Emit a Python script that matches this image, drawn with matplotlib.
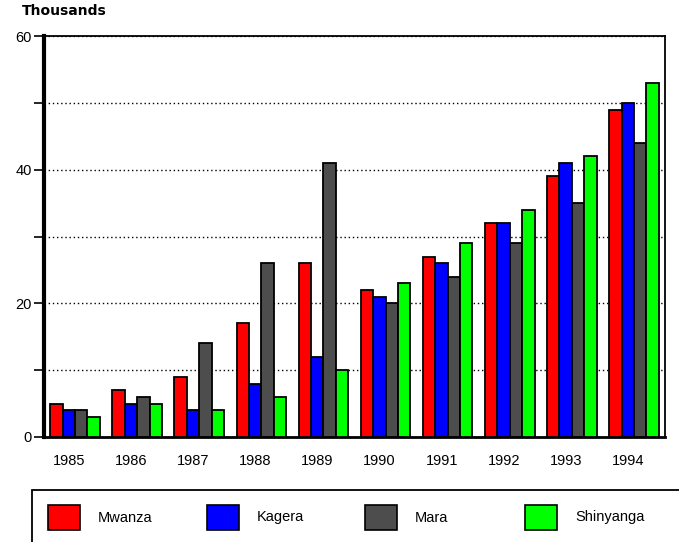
import matplotlib
matplotlib.use("Agg")
import matplotlib.pyplot as plt
import matplotlib.transforms as mtransforms
import numpy as np
from matplotlib.patches import Rectangle

plt.rcParams['font.family'] = ['Liberation Sans', 'DejaVu Sans']

years = ["1985", "1986", "1987", "1988", "1989", "1990", "1991", "1992", "1993", "1994"]
regions = ["Mwanza", "Kagera", "Mara", "Shinyanga"]
mwanza = [5, 7, 9, 17, 26, 22, 27, 32, 39, 49]
kagera = [4, 5, 4, 8, 12, 21, 26, 32, 41, 50]
mara = [4, 6, 14, 26, 41, 20, 24, 29, 35, 44]
shinyanga = [3, 5, 4, 6, 10, 23, 29, 34, 42, 53]
series = [mwanza, kagera, mara, shinyanga]
colors = ["#FF0000", "#0000FF", "#4D4D4D", "#00FF00"]

W, H = 679, 542
fig = plt.figure(figsize=(W / 100, H / 100), dpi=100)
ax = fig.add_axes([44 / W, 1 - 437 / H, 621 / W, 401 / H])

x = np.arange(len(years))
bw = 0.2
for i, (vals, c) in enumerate(zip(series, colors)):
    ax.bar(x + (i - 1.5) * bw, vals, width=bw, color=c, edgecolor="black",
           linewidth=1.3, zorder=3)

ax.set_xlim(-0.5, len(years) - 0.5)
ax.set_ylim(0, 60)
ax.set_yticks([0, 20, 40, 60])
ax.set_yticks([10, 30, 50], minor=True)
ax.yaxis.grid(True, which="both", linestyle=(0, (1, 2)), color="black", linewidth=1.0, zorder=1)
ax.tick_params(axis="y", which="both", direction="out", length=7, width=1.2,
               labelsize=10.5, pad=2)
ax.tick_params(axis="x", length=0, labelsize=10.5, pad=12)
ax.set_xticks(x)
ax.set_xticklabels(years)
shift = mtransforms.ScaledTranslation(-6 / 100, 0, fig.dpi_scale_trans)
for lbl in ax.get_xticklabels():
    lbl.set_transform(lbl.get_transform() + shift)

ax.spines["left"].set_linewidth(3)
ax.spines["bottom"].set_linewidth(2)
ax.spines["top"].set_linewidth(1.3)
ax.spines["right"].set_linewidth(1.3)

fig.text(22 / W, 1 - 11 / H, "Thousands", fontsize=10, fontweight="bold",
         family="DejaVu Sans", va="center", ha="left")

# Legend box along the bottom
fig.patches.append(Rectangle((32 / W, -0.05), 700 / W, (542 - 490) / H + 0.05,
                             transform=fig.transFigure, facecolor="white",
                             edgecolor="black", linewidth=1.3))
patch_x = [48, 207, 365, 525]
for name, c, px in zip(regions, colors, patch_x):
    fig.patches.append(Rectangle((px / W, 1 - 530 / H), 32 / W, 25 / H,
                                 transform=fig.transFigure, facecolor=c,
                                 edgecolor="black", linewidth=1.2))
    fig.text((px + 50) / W, 1 - 517.5 / H, name, fontsize=10.5, va="center", ha="left")

fig.savefig("out.png", dpi=100)
